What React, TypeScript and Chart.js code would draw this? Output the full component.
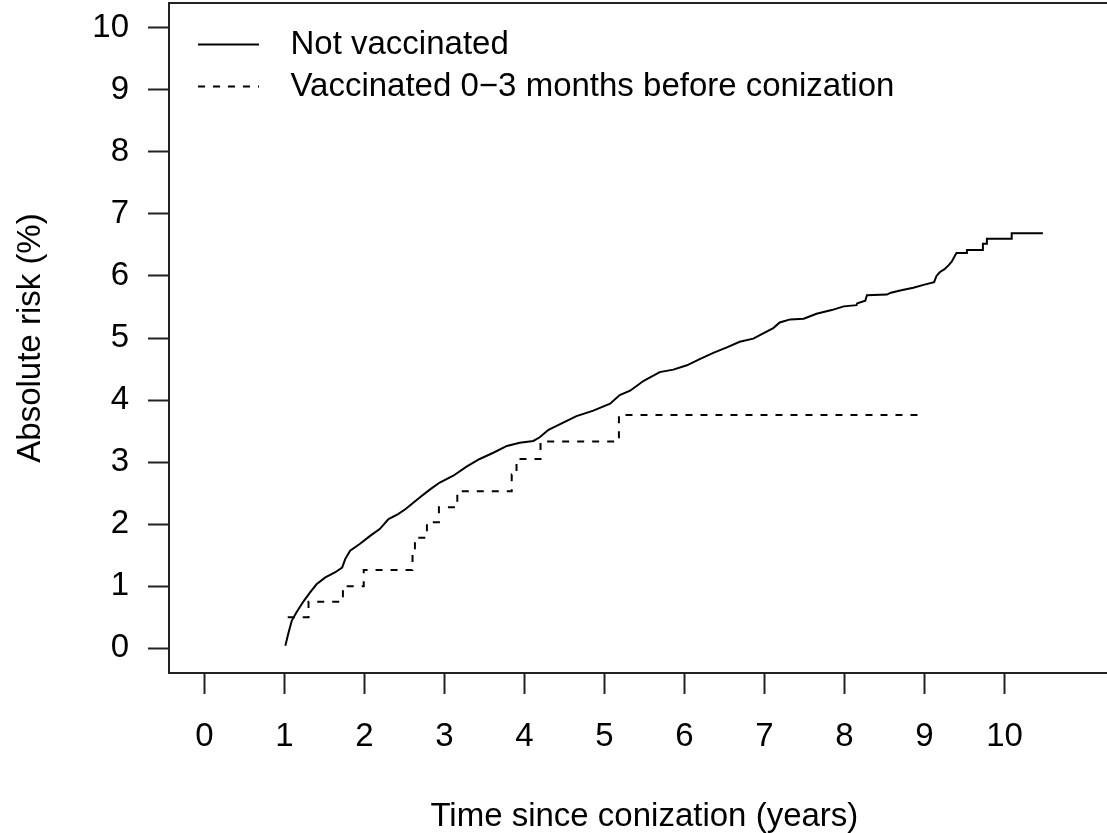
import { useEffect, useRef } from 'react';
import { Chart, registerables } from 'chart.js';

Chart.register(...registerables);

// ---- data ----
const notVaccinatedTime = [
  1.01, 1.05, 1.09, 1.15, 1.24, 1.32, 1.40, 1.51, 1.63, 1.72, 1.76, 1.82, 1.94, 2.07, 2.19, 2.30,
  2.42, 2.51, 2.69, 2.82, 2.94, 3.11, 3.28, 3.44, 3.61, 3.78, 3.94, 4.11, 4.19, 4.30, 4.49, 4.65,
  4.86, 5.07, 5.19, 5.32, 5.49, 5.69, 5.86, 6.03, 6.19, 6.36, 6.53, 6.69, 6.86, 6.99, 7.11, 7.19,
  7.32, 7.49, 7.65, 7.84, 7.99, 8.15, 8.16, 8.26, 8.28, 8.53, 8.58, 8.71, 8.86, 9.00, 9.12, 9.15,
  9.19, 9.25, 9.30, 9.34, 9.37, 9.40, 9.53, 9.53, 9.73, 9.73, 9.78, 9.78, 10.09, 10.09, 10.48,
];
const notVaccinatedRisk = [
  0.04, 0.25, 0.44, 0.58, 0.76, 0.90, 1.03, 1.14, 1.22, 1.30, 1.44, 1.57, 1.68, 1.81, 1.92, 2.08,
  2.16, 2.24, 2.43, 2.56, 2.67, 2.78, 2.93, 3.05, 3.15, 3.26, 3.31, 3.34, 3.40, 3.52, 3.64, 3.74,
  3.83, 3.94, 4.08, 4.15, 4.31, 4.45, 4.49, 4.56, 4.66, 4.76, 4.85, 4.94, 4.99, 5.08, 5.16, 5.25,
  5.30, 5.31, 5.39, 5.45, 5.51, 5.53, 5.56, 5.60, 5.69, 5.70, 5.73, 5.77, 5.81, 5.86, 5.90, 6.00,
  6.06, 6.11, 6.17, 6.23, 6.30, 6.37, 6.37, 6.42, 6.42, 6.52, 6.52, 6.60, 6.60, 6.69, 6.69,
];
const vaccinatedTime = [1.04, 1.30, 1.73, 1.99, 2.60, 2.63, 2.78, 2.93, 3.16, 3.84, 3.90, 4.20, 5.18, 9.00];
const vaccinatedRisk = [0.50, 0.75, 1.00, 1.26, 1.52, 1.78, 2.03, 2.27, 2.53, 2.80, 3.05, 3.33, 3.76, 3.76];

const xTickValues = [0, 1, 2, 3, 4, 5, 6, 7, 8, 9, 10];
const yTickValues = [0, 1, 2, 3, 4, 5, 6, 7, 8, 9, 10];

const seriesLabels = ['Not vaccinated', 'Vaccinated 0\u22123 months before conization'];
const xAxisTitle = 'Time since conization (years)';
const yAxisTitle = 'Absolute risk (%)';

const FONT = '"Liberation Sans", Arial, Helvetica, sans-serif';
const FS = 33;
const AXIS = '#222';
const SWATCH_W = 96;

function legendSwatch(dash: number[]) {
  const c = document.createElement('canvas');
  c.width = SWATCH_W;
  c.height = 8;
  const g = c.getContext('2d')!;
  g.strokeStyle = '#000';
  g.lineWidth = 2;
  g.setLineDash(dash);
  g.beginPath();
  g.moveTo(20, 4);
  g.lineTo(81, 4);
  g.stroke();
  return c;
}

const plotBox = {
  id: 'plotBox',
  afterDatasetsDraw(chart: any) {
    const { ctx, chartArea: a } = chart;
    ctx.save();
    ctx.strokeStyle = AXIS;
    ctx.lineWidth = 2;
    ctx.strokeRect(a.left, a.top, a.right - a.left, a.bottom - a.top);
    ctx.restore();
  },
};

export default function App() {
  const ref = useRef<HTMLCanvasElement | null>(null);

  useEffect(() => {
    document.body.style.margin = '0';
    const canvas = ref.current!;
    const chart = new Chart(canvas, {
      type: 'line',
      data: {
        datasets: [
          {
            label: seriesLabels[0],
            data: notVaccinatedTime.map((t, i) => ({ x: t, y: notVaccinatedRisk[i] })),
            borderColor: '#000',
            backgroundColor: 'rgba(0,0,0,0)',
            borderWidth: 2,
            pointRadius: 0,
            pointStyle: legendSwatch([]) as any,
            tension: 0,
            fill: false,
          },
          {
            label: seriesLabels[1],
            data: vaccinatedTime.map((t, i) => ({ x: t, y: vaccinatedRisk[i] })),
            borderColor: '#000',
            backgroundColor: 'rgba(0,0,0,0)',
            borderWidth: 2,
            borderDash: [7, 8],
            pointRadius: 0,
            pointStyle: legendSwatch([7, 8]) as any,
            stepped: 'before',
            fill: false,
          },
        ],
      },
      options: {
        responsive: false,
        animation: false,
        events: [],
        devicePixelRatio: 1,
        layout: { padding: { left: 0, top: 3, right: 20.3, bottom: 0 } },
        font: { family: FONT, size: FS },
        color: '#000',
        scales: {
          x: {
            type: 'linear',
            min: -0.444,
            max: 11.44,
            afterBuildTicks: (s: any) => {
              s.ticks = xTickValues.map((v) => ({ value: v }));
            },
            afterFit: (s: any) => {
              s.height = 160;
              s.paddingLeft = 0;
              s.paddingRight = 0;
            },
            grid: {
              display: true,
              drawOnChartArea: false,
              drawTicks: true,
              tickLength: 21,
              tickWidth: 2,
              tickColor: AXIS,
            },
            border: { display: false },
            ticks: {
              color: '#000',
              font: { family: FONT, size: FS },
              padding: 23,
              maxRotation: 0,
              autoSkip: false,
            },
            title: {
              display: true,
              text: xAxisTitle,
              color: '#000',
              font: { family: FONT, size: FS },
              padding: { top: 0, bottom: -4 },
            },
          },
          y: {
            type: 'linear',
            min: -0.4,
            max: 10.4,
            afterBuildTicks: (s: any) => {
              s.ticks = yTickValues.map((v) => ({ value: v }));
            },
            afterFit: (s: any) => {
              s.width = 169;
              s.paddingTop = 0;
              s.paddingBottom = 0;
            },
            grid: {
              display: true,
              drawOnChartArea: false,
              drawTicks: true,
              tickLength: 21,
              tickWidth: 2,
              tickColor: AXIS,
            },
            border: { display: false },
            ticks: {
              color: '#000',
              font: { family: FONT, size: FS },
              padding: 19,
              autoSkip: false,
            },
            title: {
              display: true,
              text: yAxisTitle,
              color: '#000',
              font: { family: FONT, size: FS },
              padding: { top: 11, bottom: 0 },
            },
          },
        },
        plugins: {
          tooltip: { enabled: false },
          legend: {
            display: true,
            position: 'chartArea',
            align: 'start',
            title: {
              display: true,
              text: '',
              font: { size: 1, lineHeight: 1 },
              padding: { top: 18, bottom: 0 },
            },
            labels: {
              usePointStyle: true,
              pointStyleWidth: SWATCH_W,
              padding: 9,
              color: '#000',
              font: { family: FONT, size: FS },
            },
          },
        },
      } as any,
      plugins: [plotBox],
    });
    return () => chart.destroy();
  }, []);

  return (
    <div style={{ width: 1107, height: 833, overflow: 'hidden', position: 'relative', background: '#fff' }}>
      <canvas ref={ref} width={1140} height={833} style={{ display: 'block', width: 1140, height: 833 }} />
    </div>
  );
}
